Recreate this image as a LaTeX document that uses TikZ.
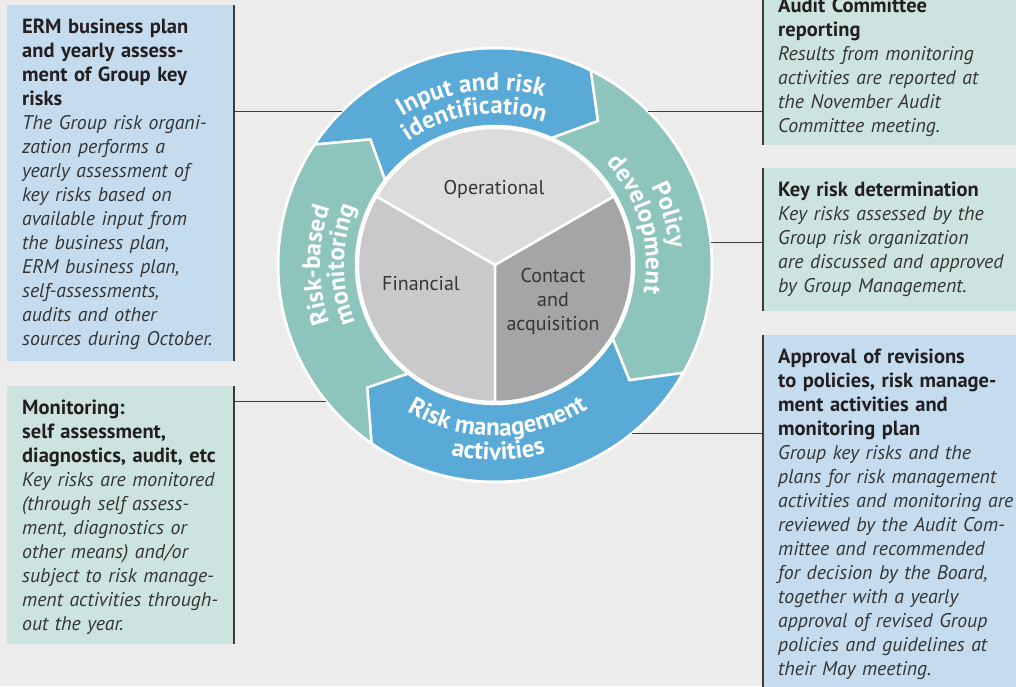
\documentclass[tikz,border=0pt]{standalone}
\usepackage{fontspec}
\setmainfont{PT Sans}
\usetikzlibrary{decorations.text}
\definecolor{bg}{HTML}{ECECEC}
\definecolor{ringblue}{HTML}{5AAAD7}
\definecolor{ringteal}{HTML}{8DC4BC}
\definecolor{boxblue}{HTML}{C5DCEF}
\definecolor{boxteal}{HTML}{CDE3DF}
\definecolor{pielight}{HTML}{DCDCDC}
\definecolor{piemid}{HTML}{C9C9CB}
\definecolor{piedark}{HTML}{A5A5A7}
\definecolor{ink}{HTML}{231F20}
\definecolor{softink}{HTML}{353535}
\definecolor{rule}{HTML}{3C3C3C}
\newcommand{\ringfont}{\fontsize{25}{25}\selectfont\bfseries}
\newcommand{\hd}{\fontsize{20.5}{24}\selectfont\bfseries\color{ink}}
\tikzset{
  panel/.style 2 args={anchor=north west, minimum width=#1, minimum height=#2,
    inner sep=0pt, outer sep=0pt},
  note/.style={anchor=north west, inner sep=0pt, align=left, text width=270pt,
    text=softink, font=\fontsize{19.8}{24}\selectfont},
  lead/.style={draw=rule, line width=1.3pt},
  seam/.style={draw=white, line width=2.5pt},
  pielabel/.style={align=center, text=softink, font=\fontsize{20}{24}\selectfont},
  ringlabel/.style={decorate, decoration={text along path, text align=center,
    text color=white, text={|\ringfont|#1}}}
}
\begin{document}
\begin{tikzpicture}[x=1pt, y=1pt]
  \fill[bg] (0,0) rectangle (1016,686);
  \useasboundingbox (0,0) rectangle (1016,686);
  \clip (0,0) rectangle (1016,686);
  % boxes on the left
  \node[panel={227pt}{356pt}, fill=boxblue] (erm) at (7,681) {};
  \node[panel={227pt}{258pt}, fill=boxteal] (monit) at (7,300) {};
  % boxes on the right
  \node[panel={270pt}{161pt}, fill=boxteal] (audit) at (763,702) {};
  \node[panel={270pt}{143pt}, fill=boxteal] (keyrisk) at (763,518) {};
  \node[panel={270pt}{358pt}, fill=boxblue] (approval) at (763,351) {};
  \node[note] (ermtext) at ([shift={(15,-14)}]erm.north west)
    {{\hd ERM business plan\\and yearly assess-\\ment of Group key\\risks}\\
     \itshape The Group risk organi-\\zation performs a\\yearly assessment of\\
     key risks based on\\available input from\\the business plan,\\
     ERM business plan,\\self-assessments,\\audits and other\\sources during October.};
  \node[note] (monittext) at ([shift={(15,-14)}]monit.north west)
    {{\hd Monitoring:\\self assessment,\\diagnostics, audit, etc}\\
     \itshape Key risks are monitored\\(through self assess-\\ment, diagnostics or\\
     other means) and/or\\subject to risk manage-\\ment activities through-\\out the year.};
  \node[note] (audittext) at ([shift={(15,-14)}]audit.north west)
    {{\hd Audit Committee\\reporting}\\
     \itshape Results from monitoring\\activities are reported at\\
     the November Audit\\Committee meeting.};
  \node[note] (keyrisktext) at ([shift={(15,-14)}]keyrisk.north west)
    {{\hd Key risk determination}\\
     \itshape Key risks assessed by the\\Group risk organization\\
     are discussed and approved\\by Group Management.};
  \node[note] (approvaltext) at ([shift={(15,-14)}]approval.north west)
    {{\hd Approval of revisions\\to policies, risk manage-\\ment activities and\\monitoring plan}\\
     \itshape Group key risks and the\\plans for risk management\\
     activities and monitoring are\\reviewed by the Audit Com-\\mittee and recommended\\
     for decision by the Board,\\together with a yearly\\approval of revised Group\\
     policies and guidelines at\\their May meeting.};
  % the wheel
  \begin{scope}[shift={(495,421)}]
    \foreach \col/\oa/\ta/\ia/\ob/\tb/\ib in {
        ringblue/146.3/134.8/142.3/63.8/54.4/66.0,
        ringteal/63.8/54.4/66.0/-29.8/-40.6/-32.1,
        ringblue/-29.8/-40.6/-32.1/-124.7/-136.2/-128.7,
        ringteal/235.3/223.8/231.3/146.3/134.8/142.3}
      \filldraw[fill=\col, seam] (\oa:217) arc[start angle=\oa, end angle=\ob, radius=217]
        -- (\tb:177) -- (\ib:139) arc[start angle=\ib, end angle=\ia, radius=139]
        -- (\ta:177) -- cycle;
    \node[circle, minimum size=434pt, draw=white, line width=2.5pt, outer sep=0pt] (wheel) at (0,0) {};
    % risk types
    \filldraw[fill=pielight, seam] (0,0) -- (30:137) arc[start angle=30, end angle=150, radius=137] -- cycle;
    \filldraw[fill=piemid, seam] (0,0) -- (150:137) arc[start angle=150, end angle=270, radius=137] -- cycle;
    \filldraw[fill=piedark, seam] (0,0) -- (270:137) arc[start angle=270, end angle=390, radius=137] -- cycle;
    \node[pielabel] (oper) at (-1,76) {Operational};
    \node[pielabel] (fin) at (-74,-19) {Financial};
    \node[pielabel] (cont) at (58,-36) {Contact\\and\\acquisition};
    % ring labels
    \path[ringlabel={Input and risk}] (148:175) arc[start angle=148, end angle=48, radius=175];
    \path[ringlabel={identification}] (148:151) arc[start angle=148, end angle=48, radius=151];
    \path[ringlabel={Policy}] (71:175) arc[start angle=71, end angle=-39, radius=175];
    \path[ringlabel={development}] (71:151) arc[start angle=71, end angle=-39, radius=151];
    \path[ringlabel={Risk management}] (216:171) arc[start angle=216, end angle=326, radius=171];
    \path[ringlabel={activities}] (216:195) arc[start angle=216, end angle=326, radius=195];
    \path[ringlabel={Risk-based}] (235:175) arc[start angle=235, end angle=125, radius=175];
    \path[ringlabel={monitoring}] (235:151) arc[start angle=235, end angle=125, radius=151];
  \end{scope}
  % leader lines
  \draw[lead] (erm.north east) -- (erm.south east);
  \draw[lead] (monit.north east) -- (monit.south east);
  \draw[lead] (audit.north west) -- (audit.south west);
  \draw[lead] (keyrisk.north west) -- (keyrisk.south west);
  \draw[lead] (approval.north west) -- (approval.south west);
  \draw[lead] (wheel.135) -- (wheel.135 -| erm.east);
  \draw[lead] (wheel.219) -- (wheel.219 -| monit.east);
  \draw[lead] (wheel.45) -- (wheel.45 -| audit.west);
  \draw[lead] (wheel.6) -- (wheel.6 -| keyrisk.west);
  \draw[lead] (wheel.-51) -- (wheel.-51 -| approval.west);
\end{tikzpicture}
\end{document}
